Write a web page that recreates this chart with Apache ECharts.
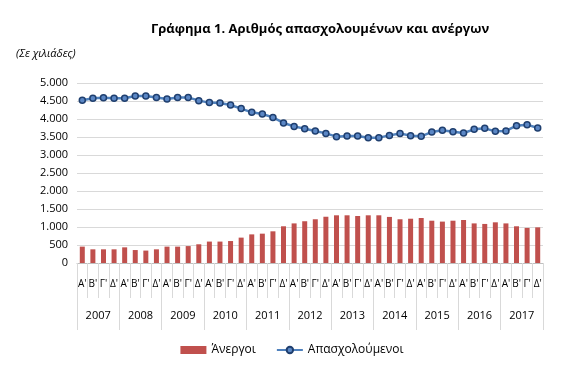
<!DOCTYPE html>
<html>
<head>
<meta charset="utf-8">
<script src="https://cdn.jsdelivr.net/npm/echarts@6/dist/echarts.min.js"></script>
<style>
  html, body { margin: 0; padding: 0; background: #fff; }
  #chart { width: 584px; height: 380px; }
</style>
</head>
<body>
<div id="chart"></div>
<script>
// κατηγορίες
const years = ['2007', '2008', '2009', '2010', '2011', '2012', '2013', '2014', '2015', '2016', '2017'];
const quarterNames = ["Α'", "Β'", "Γ'", "Δ'"];
const quarters = [];
years.forEach(() => quarterNames.forEach(q => quarters.push(q)));

// Άνεργοι (χιλιάδες)
const unemployed = [
  455, 380, 380, 380, 435, 360, 345, 380,
  455, 455, 470, 520, 595, 595, 610, 705,
  795, 815, 880, 1020, 1100, 1160, 1215, 1285,
  1325, 1325, 1305, 1325, 1325, 1280, 1215, 1230,
  1250, 1175, 1150, 1175, 1195, 1100, 1085, 1130,
  1100, 1020, 975, 990
];
// Απασχολούμενοι (χιλιάδες)
const employed = [
  4520, 4575, 4590, 4575, 4575, 4640, 4640, 4600,
  4555, 4600, 4600, 4510, 4455, 4445, 4390, 4290,
  4185, 4140, 4045, 3890, 3795, 3730, 3665, 3600,
  3510, 3528, 3528, 3482, 3482, 3545, 3600, 3537,
  3518, 3640, 3685, 3648, 3612, 3712, 3740, 3657,
  3667, 3815, 3843, 3750
];
const yTicks = { min: 0, max: 5000, interval: 500 };

const font = 'Open Sans';
const chart = echarts.init(document.getElementById('chart'));

const option = {
  animation: false,
  textStyle: { fontFamily: font },
  title: [
    {
      text: 'Γράφημα 1. Αριθμός απασχολουμένων και ανέργων',
      left: 146,
      top: 18,
      textStyle: { fontSize: 13, fontWeight: 'bold', color: '#000', fontFamily: font }
    },
    {
      text: '(Σε χιλιάδες)',
      left: 11,
      top: 43,
      textStyle: { fontSize: 11, fontStyle: 'italic', fontWeight: 'normal', color: '#000', fontFamily: font }
    }
  ],
  legend: {
    bottom: 19,
    left: 'center',
    itemGap: 20,
    itemWidth: 26,
    itemHeight: 8,
    textStyle: { fontSize: 12, color: '#000', fontFamily: font },
    data: [
      { name: 'Άνεργοι', icon: 'rect' },
      { name: 'Απασχολούμενοι' }
    ]
  },
  grid: {
    left: 77,
    right: 41,
    top: 83,
    bottom: 117
  },
  xAxis: [
    {
      type: 'category',
      data: quarters,
      axisLine: { lineStyle: { color: '#bfbfbf' } },
      axisTick: { show: true, interval: 0, length: 35, lineStyle: { color: '#d9d9d9' } },
      axisLabel: { interval: 0, margin: 16, fontSize: 10, color: '#000', fontFamily: font }
    },
    {
      type: 'category',
      data: years,
      position: 'bottom',
      axisLine: { show: false },
      axisTick: { show: true, interval: 0, length: 67, lineStyle: { color: '#d9d9d9' } },
      axisLabel: { interval: 0, margin: 47, fontSize: 11, color: '#000', fontFamily: font }
    }
  ],
  yAxis: {
    type: 'value',
    min: yTicks.min,
    max: yTicks.max,
    interval: yTicks.interval,
    axisLine: { show: false },
    axisTick: { show: false },
    axisLabel: {
      margin: 9,
      fontSize: 11,
      color: '#000',
      fontFamily: font,
      formatter: v => String(v).replace(/\B(?=(\d{3})+(?!\d))/g, '.')
    },
    splitLine: { lineStyle: { color: '#d9d9d9' } }
  },
  series: [
    {
      name: 'Άνεργοι',
      type: 'bar',
      xAxisIndex: 0,
      barWidth: 5,
      itemStyle: { color: '#C0504D' },
      data: unemployed
    },
    {
      name: 'Απασχολούμενοι',
      type: 'line',
      xAxisIndex: 0,
      symbol: 'circle',
      symbolSize: 6,
      lineStyle: { color: '#4F81BD', width: 2.5 },
      itemStyle: { color: '#5B87C5', borderColor: '#1F3F6F', borderWidth: 1.5 },
      data: employed
    }
  ]
};

chart.setOption(option);
</script>
</body>
</html>
